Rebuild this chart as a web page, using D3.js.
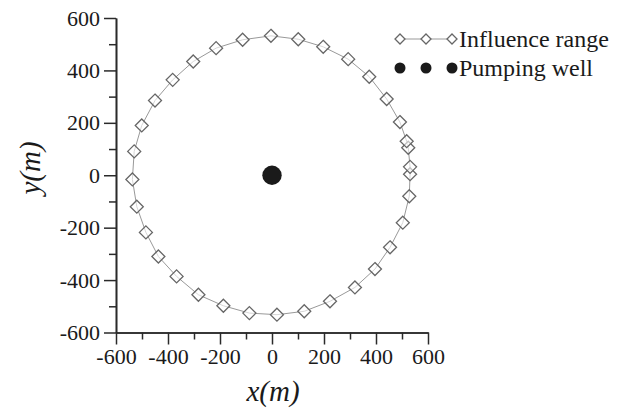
<!DOCTYPE html>
<html>
<head>
<meta charset="utf-8">
<script src="https://cdn.jsdelivr.net/npm/d3@7"></script>
<style>
  html, body { margin: 0; padding: 0; background: #fff; }
  svg { display: block; }
</style>
</head>
<body>
<svg id="chart" width="617" height="415"></svg>
<script>
// ---- data ----
const influenceX = [531, 531, 524, 518, 492, 441, 374, 293, 197, 101, -4, -113, -215, -303, -382, -450, -501, -530, -537, -520, -485, -437, -367, -283, -187, -87, 19, 124, 223, 319, 396, 454, 503, 528];
const influenceY = [4, 32, 105, 130, 203, 291, 376, 443, 490, 519, 532, 517, 485, 434, 364, 285, 190, 91, -16, -120, -218, -310, -386, -456, -498, -526, -532, -519, -481, -428, -358, -275, -181, -80];
const wellX = [0];
const wellY = [0];
const xMajorTicks = [-600, -400, -200, 0, 200, 400, 600];
const xMinorTicks = [-500, -300, -100, 100, 300, 500];
const yMajorTicks = [-600, -400, -200, 0, 200, 400, 600];
const yMinorTicks = [-500, -300, -100, 100, 300, 500];
const legendLabels = ["Influence range", "Pumping well"];
const xTitle = "x(m)";
const yTitle = "y(m)";

// ---- chart ----
const svg = d3.select("#chart");
const serif = "'Liberation Serif', 'Times New Roman', serif";
const x = d3.scaleLinear().domain([-600, 600]).range([116, 428]);
const y = d3.scaleLinear().domain([-600, 600]).range([332.5, 18]);

const axisColor = "#2a2a2a";
const textColor = "#1a1a1a";

function styleAxis(g) {
  g.selectAll("path.domain").attr("stroke", axisColor).attr("stroke-width", 1.6);
  g.selectAll(".tick line").attr("stroke", axisColor).attr("stroke-width", 1.5);
  g.selectAll(".tick text").attr("fill", textColor).style("font-family", serif).style("font-size", "22px");
}
const fmt = d => String(d);

// minor ticks
svg.append("g").attr("transform", `translate(0,${y(-600)})`)
  .call(d3.axisBottom(x).tickValues(xMinorTicks).tickSize(7).tickSizeOuter(0).tickFormat(""))
  .call(styleAxis);
svg.append("g").attr("transform", `translate(${x(-600)},0)`)
  .call(d3.axisLeft(y).tickValues(yMinorTicks).tickSize(7).tickSizeOuter(0).tickFormat(""))
  .call(styleAxis);
// major ticks
svg.append("g").attr("transform", `translate(0,${y(-600)})`)
  .call(d3.axisBottom(x).tickValues(xMajorTicks).tickSize(12).tickSizeOuter(0).tickPadding(4).tickFormat(fmt))
  .call(styleAxis);
svg.append("g").attr("transform", `translate(${x(-600)},0)`)
  .call(d3.axisLeft(y).tickValues(yMajorTicks).tickSize(12).tickSizeOuter(0).tickPadding(4).tickFormat(fmt))
  .call(styleAxis);

// titles
svg.append("text").attr("x", 273).attr("y", 401).attr("text-anchor", "middle")
  .style("font-family", serif).style("font-style", "italic").style("font-size", "29px").attr("fill", textColor)
  .text(xTitle);
svg.append("text").attr("transform", "translate(40,168) rotate(-90)").attr("text-anchor", "middle")
  .style("font-family", serif).style("font-style", "italic").style("font-size", "29px").attr("fill", textColor)
  .text(yTitle);

// influence range line
const pts = influenceX.map((d, i) => [d, influenceY[i]]);
const line = d3.line().x(d => x(d[0])).y(d => y(d[1])).curve(d3.curveLinearClosed);
svg.append("path").datum(pts).attr("d", line)
  .attr("fill", "none").attr("stroke", "#999").attr("stroke-width", 1);

function diamond(h) { return `M0,${-h}L${h},0L0,${h}L${-h},0Z`; }

svg.append("g").selectAll("path").data(pts).join("path")
  .attr("transform", d => `translate(${x(d[0])},${y(d[1])})`)
  .attr("d", diamond(6.5))
  .attr("fill", "#fff").attr("fill-opacity", 0.6).attr("stroke", "#666").attr("stroke-width", 1.3);

// pumping well
svg.append("g").selectAll("circle").data(wellX.map((d, i) => [d, wellY[i]])).join("circle")
  .attr("cx", d => x(d[0])).attr("cy", d => y(d[1])).attr("r", 9.7).attr("fill", "#1a1a1a");

// legend
const lg = svg.append("g");
lg.append("line").attr("x1", 400).attr("x2", 452).attr("y1", 39).attr("y2", 39)
  .attr("stroke", "#999").attr("stroke-width", 1);
[400, 426, 452].forEach(cx => {
  lg.append("path").attr("transform", `translate(${cx},39)`).attr("d", diamond(5))
    .attr("fill", "#fff").attr("stroke", "#666").attr("stroke-width", 1.3);
  lg.append("circle").attr("cx", cx).attr("cy", 68).attr("r", 5.5).attr("fill", "#1a1a1a");
});
lg.selectAll("text").data(legendLabels).join("text")
  .attr("x", 459).attr("y", (d, i) => 47 + i * 29)
  .style("font-family", serif).style("font-size", "24px").attr("fill", textColor)
  .text(d => d);
</script>
</body>
</html>
